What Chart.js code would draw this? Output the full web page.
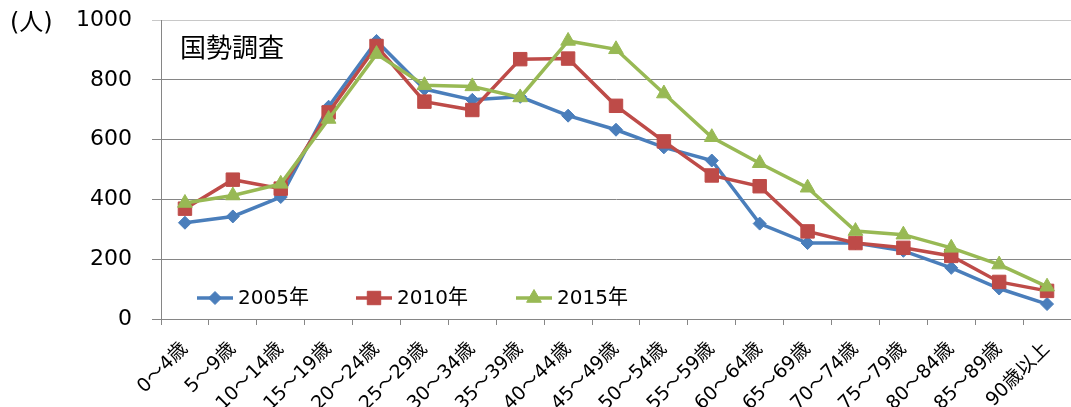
<!DOCTYPE html>
<html><head><meta charset="utf-8">
<script src="https://cdn.jsdelivr.net/npm/chart.js@4/dist/chart.umd.min.js"></script>
<style>html,body{margin:0;padding:0;background:#fff;} #wrap{width:1071px;height:407px;position:relative;}</style>
</head><body><div id="wrap"><canvas id="c" width="1071" height="407"></canvas></div>
<script>
const categories = ['0～4歳','5～9歳','10～14歳','15～19歳','20～24歳','25～29歳','30～34歳','35～39歳','40～44歳','45～49歳','50～54歳','55～59歳','60～64歳','65～69歳','70～74歳','75～79歳','80～84歳','85～89歳','90歳以上'];
const values2005 = [322,343,408,710,930,769,733,743,680,633,574,530,319,254,254,228,171,102,50];
const values2010 = [369,466,436,691,913,727,699,869,871,713,594,480,444,293,254,238,211,124,94];
const values2015 = [388,413,452,669,886,782,778,741,930,902,754,608,521,439,294,282,238,182,108];
const seriesLabels = ['2005年','2010年','2015年'];
const yTicks = [0,200,400,600,800,1000];
const unitLabel = '(人)';
const chartTitle = '国勢調査';

const FONT = '"DejaVu Sans","Noto Sans CJK JP",sans-serif';
const GRID = '#868686';

function drawMarker(ctx, style, r, x, y, color){
  ctx.save();
  ctx.fillStyle = color; ctx.strokeStyle = color; ctx.lineWidth = 1;
  if (window.Chart && Chart.helpers && Chart.helpers.drawPoint) {
    Chart.helpers.drawPoint(ctx, {pointStyle: style, rotation: 0, radius: r, borderWidth: 1}, x, y);
  }
  ctx.restore();
}

const overlay = {
  id: 'overlay',
  afterDraw(chart){
    const ctx = chart.ctx, area = chart.chartArea;
    ctx.save();
    ctx.fillStyle = '#000';
    ctx.textBaseline = 'middle';
    ctx.textAlign = 'left';
    ctx.font = '24px ' + FONT;
    ctx.fillText(unitLabel, 10, 24);
    ctx.font = '26px "Noto Sans CJK JP",sans-serif';
    ctx.fillText(chartTitle, area.left + 19, 47);
    const ly = area.bottom - 21;
    const starts = [area.left + 36, area.left + 195, area.left + 355];
    ctx.font = '20px ' + FONT;
    chart.data.datasets.forEach((ds, i) => {
      const x0 = starts[i];
      ctx.save();
      ctx.strokeStyle = ds.borderColor; ctx.lineWidth = ds.borderWidth;
      ctx.beginPath(); ctx.moveTo(x0, ly); ctx.lineTo(x0 + 36, ly); ctx.stroke();
      ctx.restore();
      drawMarker(ctx, ds.pointStyle, ds.pointRadius, x0 + 18, ly, ds.borderColor);
      ctx.fillStyle = '#000';
      ctx.fillText(ds.label, x0 + 41, ly + 1);
    });
    ctx.restore();
  }
};

const mk = (label, data, color, style, r, order) => ({
  label, data, borderColor: color, backgroundColor: color,
  borderWidth: 3.5, pointStyle: style, pointRadius: r, pointHoverRadius: r,
  pointBackgroundColor: color, pointBorderColor: color, pointBorderWidth: 1,
  tension: 0, fill: false, order, clip: false
});

new Chart(document.getElementById('c'), {
  type: 'line',
  data: {
    labels: categories,
    datasets: [
      mk(seriesLabels[0], values2005, '#4A7EBB', 'rectRot', 6.5, 2),
      mk(seriesLabels[1], values2010, '#BE4B48', 'rect', 9.5, 1),
      mk(seriesLabels[2], values2015, '#98B954', 'triangle', 8.5, 0)
    ]
  },
  options: {
    responsive: false, animation: false, devicePixelRatio: 1,
    layout: {autoPadding: false, padding: {top: 20, right: 0, left: 0, bottom: 0}},
    plugins: {legend: {display: false}, tooltip: {enabled: false}, title: {display: false}},
    scales: {
      x: {
        offset: true,
        grid: {offset: true, drawOnChartArea: false, drawTicks: true, tickLength: 6, color: GRID},
        border: {color: GRID, width: 1},
        ticks: {autoSkip: false, maxRotation: 45, minRotation: 45, padding: 13, color: '#000', font: {family: FONT, size: 19}},
        afterFit(s){ s.height = 88; s.paddingLeft = 0; s.paddingRight = 0; }
      },
      y: {
        min: 0, max: 1000,
        afterBuildTicks(s){ s.ticks = yTicks.map(v => ({value: v})); },
        grid: {color: c => (c.tick && c.tick.value === 1000) ? '#c8c8c8' : GRID, tickLength: 9, lineWidth: 1},
        border: {color: GRID, width: 1},
        ticks: {padding: 20, color: '#000', font: {family: FONT, size: 22}, callback: v => String(v)},
        afterFit(s){ s.width = 161; s.paddingTop = 0; s.paddingBottom = 0; }
      }
    }
  },
  plugins: [overlay]
});
</script></body></html>
